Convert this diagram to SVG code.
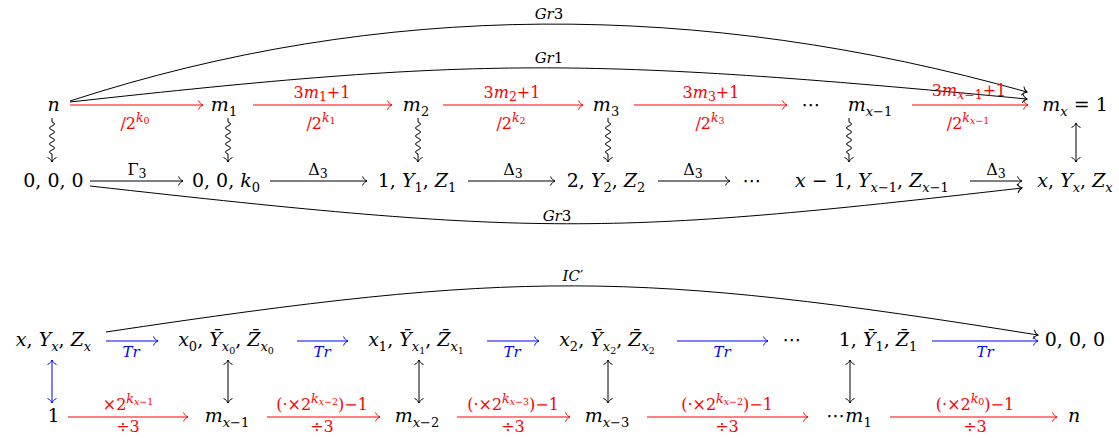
<svg xmlns="http://www.w3.org/2000/svg" width="1119" height="438" viewBox="0 0 1119 438">
<style>
text{font-family:"DejaVu Serif","Liberation Serif",serif;fill:#000}
.n{font-size:19px;text-anchor:middle}
.l{font-size:16px;text-anchor:middle}
.g{font-size:15px;text-anchor:middle}
.t{font-size:15px;text-anchor:middle}
.i{font-style:italic}
.r{fill:#ff0000}
.b{fill:#0000ff}
.s{font-size:13px}
.ss{font-size:12.5px}
.sss{font-size:9.5px}
.dt{font-family:"DejaVu Sans",sans-serif}
.k{stroke:#000;fill:none;stroke-width:1;marker-end:url(#hk)}
.kr{stroke:#ff0000;fill:none;stroke-width:1;marker-end:url(#hr)}
.kb{stroke:#0000ff;fill:none;stroke-width:1;marker-end:url(#hb)}
.dk{stroke:#000;fill:none;stroke-width:1;marker-start:url(#hk);marker-end:url(#hk)}
.db{stroke:#0000ff;fill:none;stroke-width:1;marker-start:url(#hb);marker-end:url(#hb)}
</style>
<defs>
<marker id="hk" viewBox="-6 -6 8 12" markerWidth="8" markerHeight="12" refX="0" refY="0" orient="auto-start-reverse" markerUnits="userSpaceOnUse"><path d="M-4.5,-4.5 C-3.5,-2 -1.5,-0.6 0,0 C-1.5,0.6 -3.5,2 -4.5,4.5" fill="none" stroke="#000" stroke-width="1"/></marker>
<marker id="hr" viewBox="-6 -6 8 12" markerWidth="8" markerHeight="12" refX="0" refY="0" orient="auto-start-reverse" markerUnits="userSpaceOnUse"><path d="M-4.5,-4.5 C-3.5,-2 -1.5,-0.6 0,0 C-1.5,0.6 -3.5,2 -4.5,4.5" fill="none" stroke="#ff0000" stroke-width="1"/></marker>
<marker id="hb" viewBox="-6 -6 8 12" markerWidth="8" markerHeight="12" refX="0" refY="0" orient="auto-start-reverse" markerUnits="userSpaceOnUse"><path d="M-4.5,-4.5 C-3.5,-2 -1.5,-0.6 0,0 C-1.5,0.6 -3.5,2 -4.5,4.5" fill="none" stroke="#0000ff" stroke-width="1"/></marker>
</defs>
<rect width="1119" height="438" fill="#fff"/>

<g id="connectors">
<path class="k" d="M70,101 C380,0 700,0 1027,92"/>
<path class="k" d="M70,102 C479,57 580,57 1027,99"/>
<path class="kr" d="M70,105 H203"/>
<path class="kr" d="M253,105 H392"/>
<path class="kr" d="M443,105 H583"/>
<path class="kr" d="M634,105 H787"/>
<path class="kr" d="M912,105 H1028"/>
<path class="k" d="M52,118 v4 q5,2 0,4 q-5,2 0,4 q5,2 0,4 q-5,2 0,4 q5,2 0,4 q-5,2 0,4 q5,2 0,4 q-5,2 0,4 v8"/>
<path class="k" d="M228,118 v4 q5,2 0,4 q-5,2 0,4 q5,2 0,4 q-5,2 0,4 q5,2 0,4 q-5,2 0,4 q5,2 0,4 q-5,2 0,4 v8"/>
<path class="k" d="M418,118 v4 q5,2 0,4 q-5,2 0,4 q5,2 0,4 q-5,2 0,4 q5,2 0,4 q-5,2 0,4 q5,2 0,4 q-5,2 0,4 v8"/>
<path class="k" d="M608,118 v4 q5,2 0,4 q-5,2 0,4 q5,2 0,4 q-5,2 0,4 q5,2 0,4 q-5,2 0,4 q5,2 0,4 q-5,2 0,4 v8"/>
<path class="k" d="M849,118 v4 q5,2 0,4 q-5,2 0,4 q5,2 0,4 q-5,2 0,4 q5,2 0,4 q-5,2 0,4 q5,2 0,4 q-5,2 0,4 v8"/>
<path class="dk" d="M1076,123 V162"/>
<path class="k" d="M90,181 H183"/>
<path class="k" d="M270,181 H367"/>
<path class="k" d="M468,181 H555"/>
<path class="k" d="M658,181 H730"/>
<path class="k" d="M970,181 H1022"/>
<path class="k" d="M90,186 C535,236 605,236 1022,188"/>
<path class="k" d="M106,332 C519,270 632,270 1038,335"/>
<path class="kb" d="M106,341 H158"/>
<path class="kb" d="M297,341 H348"/>
<path class="kb" d="M487,341 H539"/>
<path class="kb" d="M677,341 H768"/>
<path class="kb" d="M932,341 H1038"/>
<path class="db" d="M52,360 V403"/>
<path class="dk" d="M228,360 V403"/>
<path class="dk" d="M419,360 V403"/>
<path class="dk" d="M608,360 V403"/>
<path class="dk" d="M850,360 V403"/>
<path class="kr" d="M68,417 H188"/>
<path class="kr" d="M267,417 H380"/>
<path class="kr" d="M457,417 H570"/>
<path class="kr" d="M647,417 H808"/>
<path class="kr" d="M890,417 H1057"/>
</g>

<g id="edge-labels">
<text class="g" x="549" y="19"><tspan class="i">Gr</tspan>3</text>
<text class="g" x="549" y="63"><tspan class="i">Gr</tspan>1</text>
<text class="g" x="557" y="221"><tspan class="i">Gr</tspan>3</text>
<text class="g" x="573" y="281"><tspan class="i">IC</tspan>′</text>

<text class="l r" x="135" y="129">/2<tspan class="ss i" dy="-7">k</tspan><tspan class="sss" dy="2">0</tspan></text>
<text class="l r" x="322" y="98">3<tspan class="i">m</tspan><tspan class="ss" dy="3">1</tspan><tspan dy="-3">+1</tspan></text>
<text class="l r" x="321" y="129">/2<tspan class="ss i" dy="-7">k</tspan><tspan class="sss" dy="2">1</tspan></text>
<text class="l r" x="512" y="98">3<tspan class="i">m</tspan><tspan class="ss" dy="3">2</tspan><tspan dy="-3">+1</tspan></text>
<text class="l r" x="511" y="129">/2<tspan class="ss i" dy="-7">k</tspan><tspan class="sss" dy="2">2</tspan></text>
<text class="l r" x="711" y="98">3<tspan class="i">m</tspan><tspan class="ss" dy="3">3</tspan><tspan dy="-3">+1</tspan></text>
<text class="l r" x="710" y="129">/2<tspan class="ss i" dy="-7">k</tspan><tspan class="sss" dy="2">3</tspan></text>
<text class="l r" x="969" y="96">3<tspan class="i">m</tspan><tspan class="ss" dy="3"><tspan class="i">x</tspan>−1</tspan><tspan dy="-3">+1</tspan></text>
<text class="l r" x="968" y="129">/2<tspan class="ss i" dy="-7">k</tspan><tspan class="sss" dy="2"><tspan class="i">x</tspan>−1</tspan></text>

<text class="l" x="137" y="175">Γ<tspan class="ss" dy="3">3</tspan></text>
<text class="l" x="318" y="175">Δ<tspan class="ss" dy="3">3</tspan></text>
<text class="l" x="513" y="175">Δ<tspan class="ss" dy="3">3</tspan></text>
<text class="l" x="693" y="175">Δ<tspan class="ss" dy="3">3</tspan></text>
<text class="l" x="996" y="175">Δ<tspan class="ss" dy="3">3</tspan></text>

<text class="t b i" x="131" y="357">Tr</text>
<text class="t b i" x="322" y="357">Tr</text>
<text class="t b i" x="512" y="357">Tr</text>
<text class="t b i" x="722" y="357">Tr</text>
<text class="t b i" x="985" y="357">Tr</text>

<text class="l r" x="128" y="410">×2<tspan class="ss i" dy="-7">k</tspan><tspan class="sss" dy="2"><tspan class="i">x</tspan>−1</tspan></text>
<text class="l r" x="322" y="410">(·×2<tspan class="ss i" dy="-7">k</tspan><tspan class="sss" dy="2"><tspan class="i">x</tspan>−2</tspan><tspan dy="5">)−1</tspan></text>
<text class="l r" x="513" y="410">(·×2<tspan class="ss i" dy="-7">k</tspan><tspan class="sss" dy="2"><tspan class="i">x</tspan>−3</tspan><tspan dy="5">)−1</tspan></text>
<text class="l r" x="727" y="410">(·×2<tspan class="ss i" dy="-7">k</tspan><tspan class="sss" dy="2"><tspan class="i">x</tspan>−2</tspan><tspan dy="5">)−1</tspan></text>
<text class="l r" x="975" y="410">(·×2<tspan class="ss i" dy="-7">k</tspan><tspan class="sss" dy="2">0</tspan><tspan dy="5">)−1</tspan></text>
<text class="l r" x="128" y="432">÷3</text>
<text class="l r" x="322" y="432">÷3</text>
<text class="l r" x="513" y="432">÷3</text>
<text class="l r" x="727" y="432">÷3</text>
<text class="l r" x="975" y="432">÷3</text>
</g>

<g id="n-n"><text class="n i" x="53.5" y="111">n</text></g>
<g id="n-m1"><text class="n" x="224" y="111"><tspan class="i">m</tspan><tspan class="s" dy="4.5">1</tspan></text></g>
<g id="n-m2"><text class="n" x="416" y="111"><tspan class="i">m</tspan><tspan class="s" dy="4.5">2</tspan></text></g>
<g id="n-m3"><text class="n" x="606" y="111"><tspan class="i">m</tspan><tspan class="s" dy="4.5">3</tspan></text></g>
<g id="n-dots1"><text class="n dt" x="811" y="111">⋯</text></g>
<g id="n-mx1"><text class="n" x="870" y="111"><tspan class="i">m</tspan><tspan class="s" dy="4.5"><tspan class="i">x</tspan>−1</tspan></text></g>
<g id="n-mx"><text class="n" x="1075" y="111"><tspan class="i">m</tspan><tspan class="s i" dy="4.5">x</tspan><tspan dy="-4.5"> = 1</tspan></text></g>

<g id="n-000a"><text class="n" x="53.5" y="187">0, 0, 0</text></g>
<g id="n-00k0"><text class="n" x="226" y="187">0, 0, <tspan class="i">k</tspan><tspan class="s" dy="4.5">0</tspan></text></g>
<g id="n-1y1z1"><text class="n" x="417" y="187">1, <tspan class="i">Y</tspan><tspan class="s" dy="4.5">1</tspan><tspan dy="-4.5">, </tspan><tspan class="i">Z</tspan><tspan class="s" dy="4.5">1</tspan></text></g>
<g id="n-2y2z2"><text class="n" x="606" y="187">2, <tspan class="i">Y</tspan><tspan class="s" dy="4.5">2</tspan><tspan dy="-4.5">, </tspan><tspan class="i">Z</tspan><tspan class="s" dy="4.5">2</tspan></text></g>
<g id="n-dots2"><text class="n dt" x="752" y="187">⋯</text></g>
<g id="n-xm1"><text class="n" x="872" y="187"><tspan class="i">x</tspan> − 1, <tspan class="i">Y</tspan><tspan class="s" dy="4.5"><tspan class="i">x</tspan>−1</tspan><tspan dy="-4.5">, </tspan><tspan class="i">Z</tspan><tspan class="s" dy="4.5"><tspan class="i">x</tspan>−1</tspan></text></g>
<g id="n-xyz"><text class="n" x="1075" y="187"><tspan class="i">x</tspan>, <tspan class="i">Y</tspan><tspan class="s i" dy="4.5">x</tspan><tspan dy="-4.5">, </tspan><tspan class="i">Z</tspan><tspan class="s i" dy="4.5">x</tspan></text></g>

<g id="n-xyz2"><text class="n" x="53.5" y="346"><tspan class="i">x</tspan>, <tspan class="i">Y</tspan><tspan class="s i" dy="4.5">x</tspan><tspan dy="-4.5">, </tspan><tspan class="i">Z</tspan><tspan class="s i" dy="4.5">x</tspan></text></g>
<g id="n-x0"><text class="n" x="226" y="346"><tspan class="i">x</tspan><tspan class="s" dy="4.5">0</tspan><tspan dy="-4.5">, </tspan><tspan class="i">Ȳ</tspan><tspan class="s" dy="4.5"><tspan class="i">x</tspan><tspan class="sss" dy="3">0</tspan></tspan><tspan dy="-7.5">, </tspan><tspan class="i">Z̄</tspan><tspan class="s" dy="4.5"><tspan class="i">x</tspan><tspan class="sss" dy="3">0</tspan></tspan></text></g>
<g id="n-x1"><text class="n" x="416" y="346"><tspan class="i">x</tspan><tspan class="s" dy="4.5">1</tspan><tspan dy="-4.5">, </tspan><tspan class="i">Ȳ</tspan><tspan class="s" dy="4.5"><tspan class="i">x</tspan><tspan class="sss" dy="3">1</tspan></tspan><tspan dy="-7.5">, </tspan><tspan class="i">Z̄</tspan><tspan class="s" dy="4.5"><tspan class="i">x</tspan><tspan class="sss" dy="3">1</tspan></tspan></text></g>
<g id="n-x2"><text class="n" x="607" y="346"><tspan class="i">x</tspan><tspan class="s" dy="4.5">2</tspan><tspan dy="-4.5">, </tspan><tspan class="i">Ȳ</tspan><tspan class="s" dy="4.5"><tspan class="i">x</tspan><tspan class="sss" dy="3">2</tspan></tspan><tspan dy="-7.5">, </tspan><tspan class="i">Z̄</tspan><tspan class="s" dy="4.5"><tspan class="i">x</tspan><tspan class="sss" dy="3">2</tspan></tspan></text></g>
<g id="n-dots3"><text class="n dt" x="792" y="346">⋯</text></g>
<g id="n-1y1"><text class="n" x="878" y="346">1, <tspan class="i">Ȳ</tspan><tspan class="s" dy="4.5">1</tspan><tspan dy="-4.5">, </tspan><tspan class="i">Z̄</tspan><tspan class="s" dy="4.5">1</tspan></text></g>
<g id="n-000b"><text class="n" x="1075" y="346">0, 0, 0</text></g>

<g id="n-one"><text class="n" x="53.5" y="422">1</text></g>
<g id="n-mxm1"><text class="n" x="227" y="422"><tspan class="i">m</tspan><tspan class="s" dy="4.5"><tspan class="i">x</tspan>−1</tspan></text></g>
<g id="n-mxm2"><text class="n" x="417" y="422"><tspan class="i">m</tspan><tspan class="s" dy="4.5"><tspan class="i">x</tspan>−2</tspan></text></g>
<g id="n-mxm3"><text class="n" x="607" y="422"><tspan class="i">m</tspan><tspan class="s" dy="4.5"><tspan class="i">x</tspan>−3</tspan></text></g>
<g id="n-dm1"><text class="n" x="849" y="422"><tspan class="dt">⋯</tspan><tspan class="i">m</tspan><tspan class="s" dy="4.5">1</tspan></text></g>
<g id="n-nend"><text class="n i" x="1074" y="422">n</text></g>
</svg>
